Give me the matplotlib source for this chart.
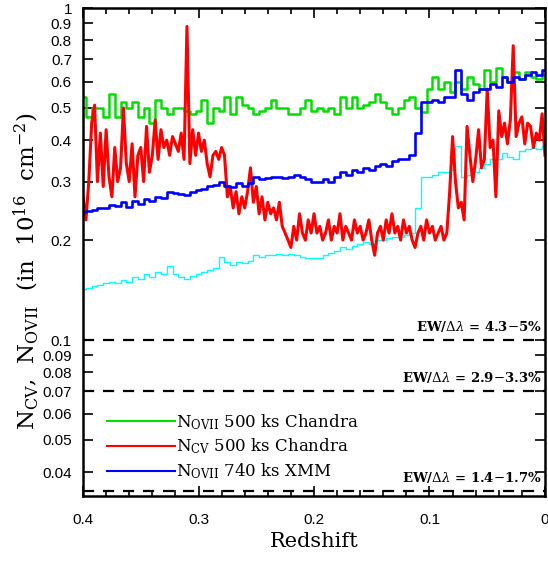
import numpy as np
import matplotlib
matplotlib.use("Agg")
import matplotlib.pyplot as plt
from matplotlib.ticker import FixedLocator, NullFormatter, MultipleLocator

# redshift grids (x runs from 0.4 down to 0)
z_coarse = np.round(np.arange(0.4, -0.0001, -0.005), 4)
z_fine = np.round(np.arange(0.4, -0.0001, -0.0025), 4)

# N_OVII 500 ks Chandra
green_vals = [0.54, 0.47, 0.50, 0.50, 0.47, 0.55, 0.47, 0.52, 0.50, 0.52,
              0.47, 0.50, 0.45, 0.53, 0.50, 0.48, 0.50, 0.50, 0.49, 0.48,
              0.49, 0.53, 0.45, 0.50, 0.49, 0.54, 0.48, 0.54, 0.51, 0.50,
              0.48, 0.49, 0.50, 0.53, 0.50, 0.50, 0.48, 0.48, 0.50, 0.53,
              0.49, 0.50, 0.49, 0.50, 0.48, 0.54, 0.50, 0.54, 0.50, 0.51,
              0.52, 0.55, 0.52, 0.50, 0.48, 0.50, 0.53, 0.54, 0.50, 0.485,
              0.57, 0.62, 0.57, 0.60, 0.56, 0.60, 0.57, 0.62, 0.59, 0.57,
              0.65, 0.60, 0.66, 0.62, 0.60, 0.64, 0.61, 0.64, 0.62, 0.61,
              0.63]

# N_OVII 740 ks XMM
blue_vals = [0.243, 0.245, 0.247, 0.250, 0.250, 0.255, 0.253, 0.260, 0.252, 0.262,
             0.257, 0.265, 0.262, 0.270, 0.268, 0.280, 0.277, 0.275, 0.273, 0.280,
             0.283, 0.285, 0.290, 0.293, 0.300, 0.290, 0.288, 0.297, 0.290, 0.297,
             0.310, 0.305, 0.307, 0.310, 0.310, 0.307, 0.310, 0.315, 0.310, 0.305,
             0.300, 0.300, 0.305, 0.300, 0.310, 0.320, 0.315, 0.325, 0.320, 0.330,
             0.325, 0.335, 0.340, 0.335, 0.345, 0.350, 0.350, 0.360, 0.420, 0.520,
             0.520, 0.530, 0.520, 0.540, 0.540, 0.650, 0.550, 0.530, 0.560, 0.570,
             0.570, 0.590, 0.580, 0.620, 0.600, 0.620, 0.610, 0.630, 0.640, 0.630,
             0.650]

# unlabelled cyan curve
cyan_vals = [0.142, 0.143, 0.145, 0.146, 0.148, 0.150, 0.148, 0.152, 0.150, 0.155,
             0.153, 0.158, 0.155, 0.160, 0.158, 0.167, 0.158, 0.155, 0.153, 0.156,
             0.158, 0.160, 0.162, 0.165, 0.178, 0.172, 0.168, 0.172, 0.170, 0.173,
             0.180, 0.178, 0.180, 0.180, 0.182, 0.180, 0.182, 0.180, 0.178, 0.177,
             0.177, 0.176, 0.180, 0.183, 0.185, 0.190, 0.188, 0.192, 0.195, 0.197,
             0.195, 0.200, 0.200, 0.203, 0.205, 0.205, 0.207, 0.210, 0.250, 0.310,
             0.310, 0.315, 0.320, 0.320, 0.325, 0.385, 0.310, 0.315, 0.320, 0.330,
             0.340, 0.350, 0.350, 0.365, 0.355, 0.350, 0.370, 0.375, 0.380, 0.375,
             0.385]

# N_CV 500 ks Chandra
red_vals = [0.27, 0.23, 0.30, 0.45, 0.51, 0.30, 0.42, 0.29, 0.43, 0.31,
            0.27, 0.38, 0.30, 0.33, 0.50, 0.34, 0.30, 0.39, 0.27, 0.36,
            0.38, 0.30, 0.44, 0.32, 0.36, 0.46, 0.35, 0.43, 0.38, 0.40,
            0.36, 0.41, 0.39, 0.37, 0.42, 0.35, 0.88, 0.34, 0.43, 0.36,
            0.42, 0.37, 0.40, 0.34, 0.31, 0.36, 0.37, 0.35, 0.38, 0.36,
            0.27, 0.29, 0.25, 0.28, 0.24, 0.27, 0.25, 0.28, 0.33, 0.26,
            0.29, 0.24, 0.27, 0.23, 0.26, 0.24, 0.25, 0.23, 0.26, 0.22,
            0.21, 0.20, 0.19, 0.22, 0.20, 0.24, 0.21, 0.20, 0.23, 0.21,
            0.24, 0.21, 0.22, 0.20, 0.21, 0.23, 0.20, 0.22, 0.21, 0.24,
            0.20, 0.22, 0.21, 0.20, 0.23, 0.21, 0.22, 0.20, 0.21, 0.23,
            0.20, 0.18, 0.21, 0.22, 0.20, 0.23, 0.21, 0.24, 0.21, 0.22,
            0.20, 0.23, 0.21, 0.22, 0.20, 0.19, 0.21, 0.22, 0.20, 0.23,
            0.21, 0.22, 0.20, 0.21, 0.22, 0.20, 0.21, 0.28, 0.41, 0.30,
            0.25, 0.26, 0.23, 0.44, 0.36, 0.30, 0.35, 0.43, 0.33, 0.35,
            0.57, 0.38, 0.40, 0.27, 0.49, 0.41, 0.45, 0.39, 0.46, 0.77,
            0.41, 0.45, 0.47, 0.39, 0.45, 0.44, 0.38, 0.42, 0.40, 0.48,
            0.36]

# equivalent-width thresholds
ew_levels = [0.1, 0.07, 0.035]
ew_labels = [r"EW/$\Delta\lambda$ = 4.3$-$5%",
             r"EW/$\Delta\lambda$ = 2.9$-$3.3%",
             r"EW/$\Delta\lambda$ = 1.4$-$1.7%"]

y_ticks = [1, 0.9, 0.8, 0.7, 0.6, 0.5, 0.4, 0.3, 0.2,
           0.1, 0.09, 0.08, 0.07, 0.06, 0.05, 0.04]
y_ticklabels = ["1", "0.9", "0.8", "0.7", "0.6", "0.5", "0.4", "0.3", "0.2",
                "0.1", "0.09", "0.08", "0.07", "0.06", "0.05", "0.04"]

plt.rcParams["mathtext.fontset"] = "dejavuserif"

fig = plt.figure(figsize=(5.48, 5.64), dpi=100)
ax = fig.add_axes([0.1515, 0.1206, 0.843, 0.8652])

ax.step(z_coarse, cyan_vals, where="mid", color="cyan", lw=1.0)
ax.step(z_coarse, green_vals, where="mid", color="#00e000", lw=1.8,
        label=r"N$_{\rm OVII}$ 500 ks Chandra")
ax.plot(z_fine, red_vals, color="red", lw=2.2,
        label=r"N$_{\rm CV}$ 500 ks Chandra")
ax.step(z_coarse, blue_vals, where="mid", color="blue", lw=1.9,
        label=r"N$_{\rm OVII}$ 740 ks XMM")

for lev, lab in zip(ew_levels, ew_labels):
    ax.axhline(lev, color="black", ls=(0, (5, 4)), lw=1.6)
    ax.text(0.003, lev * 1.045, lab, ha="right", va="bottom",
            fontsize=9.5, family="DejaVu Serif", fontweight="bold")

ax.set_yscale("log")
ax.set_xlim(0.4, 0.0)
ax.set_ylim(0.0339, 1.0)

ax.yaxis.set_major_locator(FixedLocator(y_ticks))
ax.set_yticklabels(y_ticklabels)
ax.yaxis.set_minor_formatter(NullFormatter())
ax.yaxis.set_minor_locator(FixedLocator([]))
ax.xaxis.set_minor_locator(MultipleLocator(0.02))
ax.set_xticks([0.4, 0.3, 0.2, 0.1, 0.0])
ax.set_xticklabels(["0.4", "0.3", "0.2", "0.1", "0"])

ax.tick_params(which="both", direction="in", top=True, right=True, width=1.2,
               labelsize=11, pad=8)
ax.tick_params(which="major", length=7)
ax.tick_params(which="minor", length=4)
ax.tick_params(axis="x", pad=12)
for lbl in ax.get_xticklabels() + ax.get_yticklabels():
    lbl.set_family("Liberation Sans")
for s in ax.spines.values():
    s.set_linewidth(1.8)

ax.set_xlabel("Redshift", family="DejaVu Serif", fontsize=15, labelpad=4)
ax.set_ylabel(r"N$_{\rm CV}$,  N$_{\rm OVII}$  (in  10$^{16}$  cm$^{-2}$)",
              family="DejaVu Serif", fontsize=16.5)
ax.yaxis.set_label_coords(-0.09, 0.46)

leg = ax.legend(loc="upper left", bbox_to_anchor=(0.052, 0.172), frameon=False,
                handlelength=4.1, handletextpad=0.05, labelspacing=0.3,
                borderpad=0, borderaxespad=0,
                prop={"family": "DejaVu Serif", "size": 12})
for line in leg.get_lines():
    line.set_linewidth(1.5)

fig.savefig("out.png", dpi=100)
